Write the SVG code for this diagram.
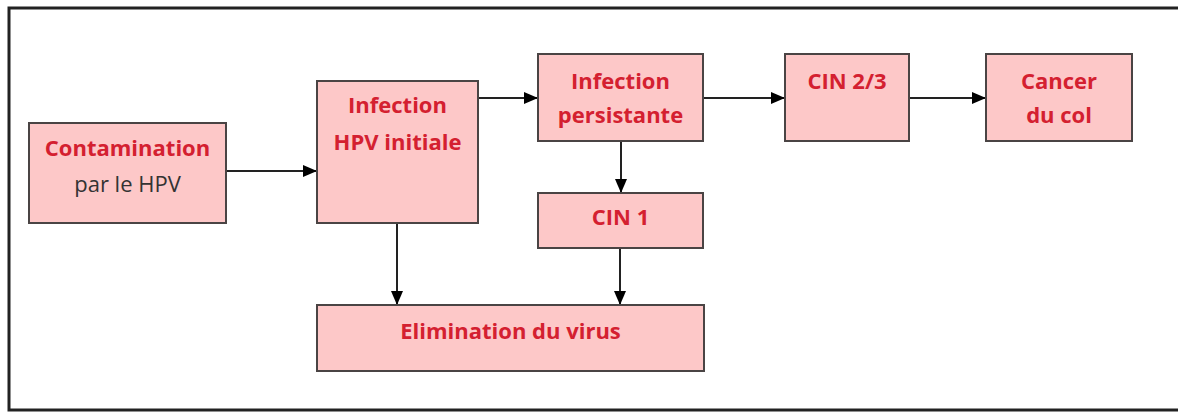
<svg xmlns="http://www.w3.org/2000/svg" width="1178" height="412" viewBox="0 0 1178 412">
<style>
.box{fill:#fdc8c8;stroke:#4a4444;stroke-width:2}
.t{font-family:"Open Sans","Liberation Sans",sans-serif;font-size:22px;font-weight:bold;fill:#d42030;text-anchor:middle}
.r{font-family:"Open Sans","Liberation Sans",sans-serif;font-size:22px;fill:#333;text-anchor:middle}
.c{stroke:#222;stroke-width:2;fill:none;marker-end:url(#ah)}
</style>
<defs>
<marker id="ah" viewBox="0 0 14 12" refX="14" refY="6" markerWidth="14" markerHeight="12" markerUnits="userSpaceOnUse" orient="auto">
<path d="M0,0 L14,6 L0,12 Z" fill="#000"/>
</marker>
</defs>
<rect x="0" y="0" width="1178" height="412" fill="#fff"/>
<rect x="9" y="8" width="1180" height="402" fill="none" stroke="#222" stroke-width="3"/>
<g id="connectors">
<line class="c" x1="226" y1="171" x2="317" y2="171"/>
<line class="c" x1="478" y1="98" x2="538" y2="98"/>
<line class="c" x1="703" y1="98" x2="785" y2="98"/>
<line class="c" x1="909" y1="98" x2="986" y2="98"/>
<line class="c" x1="621" y1="141" x2="621" y2="193"/>
<line class="c" x1="397" y1="223" x2="397" y2="305"/>
<line class="c" x1="620" y1="248" x2="620" y2="305"/>
</g>
<g id="contamination">
<rect class="box" x="29" y="123" width="197" height="100"/>
<text class="t" x="127.5" y="156">Contamination</text>
<text class="r" x="127.5" y="192">par le HPV</text>
</g>
<g id="infection-initiale">
<rect class="box" x="317" y="81" width="161" height="142"/>
<text class="t" x="397.5" y="113">Infection</text>
<text class="t" x="397.5" y="150">HPV initiale</text>
</g>
<g id="infection-persistante">
<rect class="box" x="538" y="54" width="165" height="87"/>
<text class="t" x="620.5" y="89">Infection</text>
<text class="t" x="620.5" y="123">persistante</text>
</g>
<g id="cin23">
<rect class="box" x="785" y="54" width="124" height="87"/>
<text class="t" x="847" y="89">CIN 2/3</text>
</g>
<g id="cancer">
<rect class="box" x="986" y="54" width="146" height="87"/>
<text class="t" x="1059" y="89">Cancer</text>
<text class="t" x="1059" y="123">du col</text>
</g>
<g id="cin1">
<rect class="box" x="538" y="193" width="165" height="55"/>
<text class="t" x="620.5" y="225">CIN 1</text>
</g>
<g id="elimination">
<rect class="box" x="317" y="305" width="387" height="66"/>
<text class="t" x="510.5" y="339">Elimination du virus</text>
</g>
</svg>
